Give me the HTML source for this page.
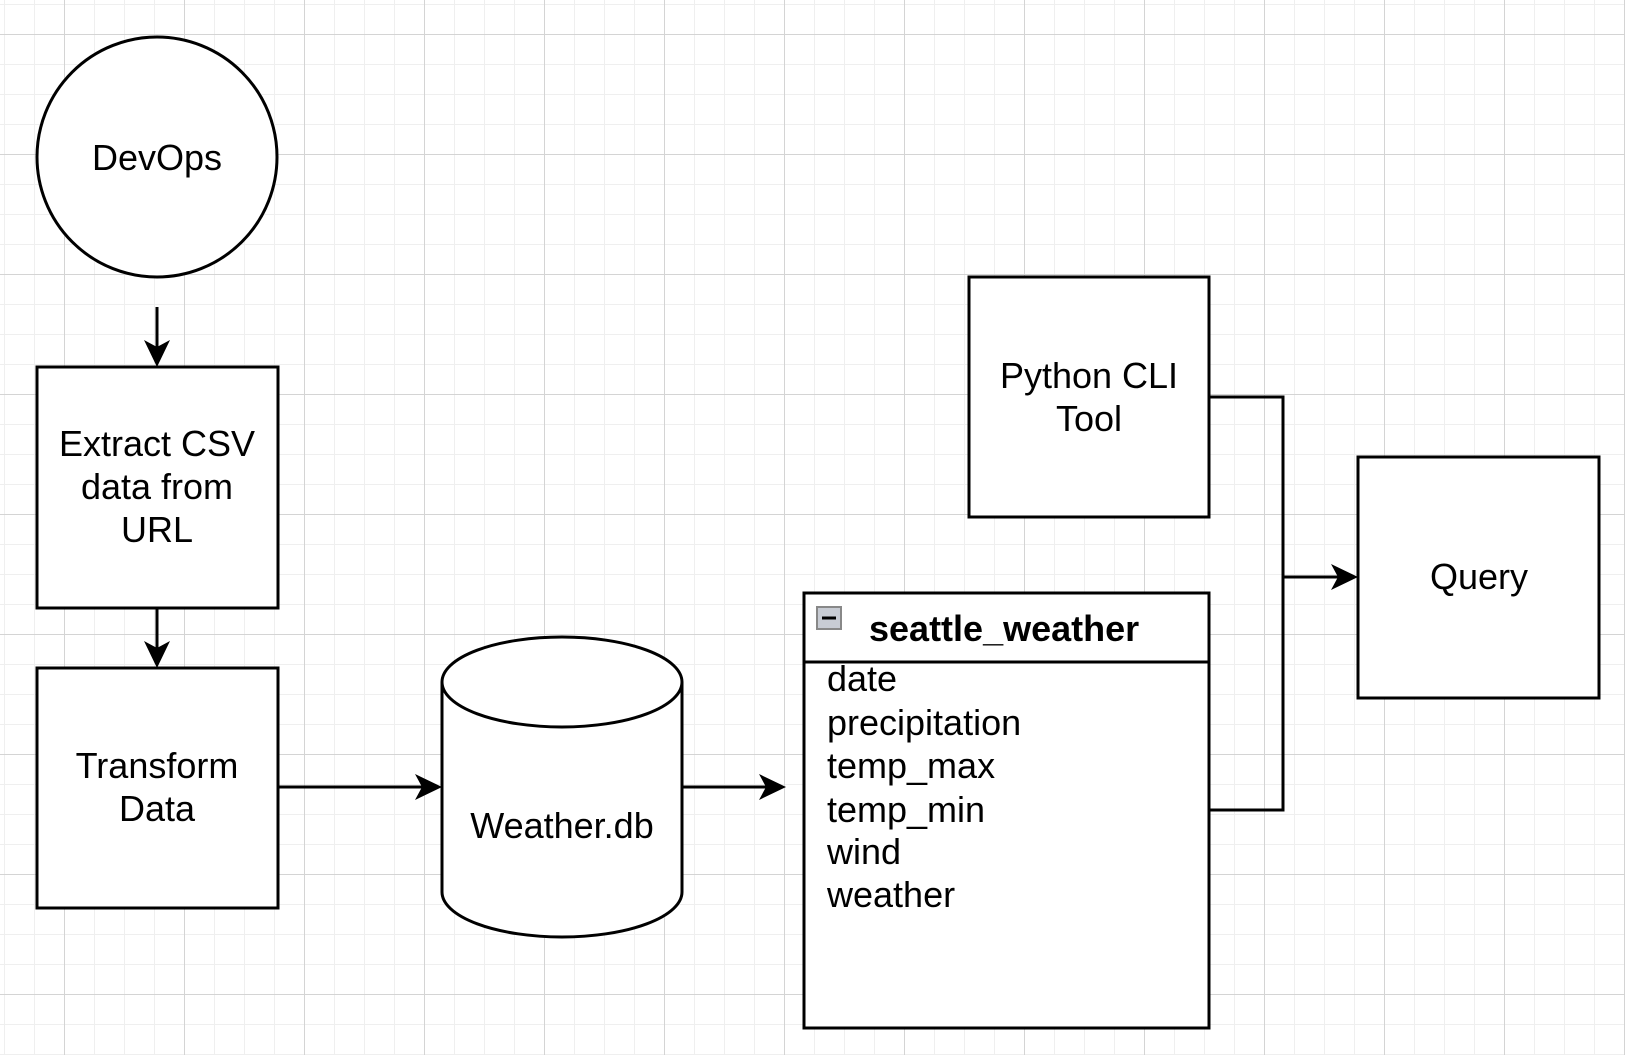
<!DOCTYPE html>
<html><head><meta charset="utf-8"><style>
html,body{margin:0;padding:0;background:#fff;}
svg{display:block;}
text{font-family:"Liberation Sans",Arial,sans-serif;font-size:36px;fill:#000;}
</style></head><body>
<svg width="1625" height="1055" viewBox="0 0 1625 1055" xmlns="http://www.w3.org/2000/svg">
<defs>
<pattern id="minor" x="4" y="4" width="30" height="30" patternUnits="userSpaceOnUse">
<path d="M0 0H30M0 0V30" stroke="#efefef" stroke-width="2" fill="none"/>
</pattern>
<pattern id="major" x="64" y="34" width="120" height="120" patternUnits="userSpaceOnUse">
<path d="M0 0H120M0 0V120" stroke="#d4d4d4" stroke-width="2" fill="none"/>
</pattern>
</defs>
<rect width="1625" height="1055" fill="url(#minor)"/>
<rect width="1625" height="1055" fill="url(#major)"/>
<g stroke="#000" stroke-width="3" fill="#fff">
<circle cx="157" cy="157" r="120"/>
<rect x="37" y="367" width="241" height="241"/>
<rect x="37" y="668" width="241" height="240"/>
<path d="M442 682 A120 45 0 0 1 682 682 V892 A120 45 0 0 1 442 892 Z"/>
<path d="M442 682 A120 45 0 0 0 682 682" fill="none"/>
<rect x="804" y="593" width="405" height="435"/>
<line x1="804" y1="662" x2="1209" y2="662"/>
<rect x="969" y="277" width="240" height="240"/>
<rect x="1358" y="457" width="241" height="241"/>
<path d="M1209 397H1283V810H1209" fill="none"/>
<line x1="1283" y1="577" x2="1345" y2="577"/>
<line x1="157" y1="307" x2="157" y2="355"/>
<line x1="157" y1="608" x2="157" y2="655"/>
<line x1="278" y1="787" x2="430" y2="787"/>
<line x1="682" y1="787" x2="774" y2="787"/>
</g>
<g fill="#000">
<path d="M1358 577 L1331 564 L1338 577 L1331 590Z"/>
<path d="M157 367 L144 340 L157 347 L170 340Z"/>
<path d="M157 668 L144 641 L157 648 L170 641Z"/>
<path d="M442 787 L415 774 L422 787 L415 800Z"/>
<path d="M786 787 L759 774 L766 787 L759 800Z"/>
</g>
<rect x="817" y="607" width="24" height="22" fill="#c8ccd4" stroke="#888" stroke-width="2"/>
<line x1="822" y1="618" x2="836" y2="618" stroke="#000" stroke-width="3"/>
<g text-anchor="middle">
<text x="157" y="170">DevOps</text>
<text x="157" y="456">Extract CSV</text>
<text x="157" y="499">data from</text>
<text x="157" y="542">URL</text>
<text x="157" y="778">Transform</text>
<text x="157" y="821">Data</text>
<text x="562" y="838">Weather.db</text>
<text x="1089" y="388">Python CLI</text>
<text x="1089" y="431">Tool</text>
<text x="1479" y="589">Query</text>
</g>
<text x="869" y="641" style="font-weight:bold">seattle_weather</text>
<text x="827" y="691">date</text>
<text x="827" y="735">precipitation</text>
<text x="827" y="778">temp_max</text>
<text x="827" y="822">temp_min</text>
<text x="827" y="864">wind</text>
<text x="827" y="907">weather</text>
</svg>
</body></html>
